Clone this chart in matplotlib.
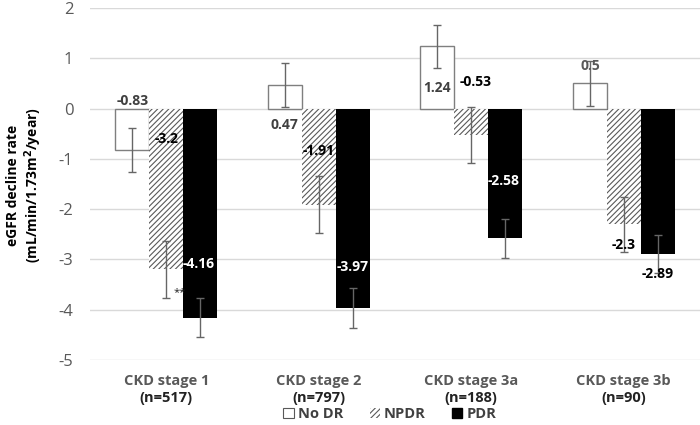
import matplotlib
matplotlib.use("Agg")
import matplotlib.pyplot as plt
from matplotlib.patches import Patch
import numpy as np

plt.rcParams['font.family'] = ['Open Sans', 'DejaVu Sans']
plt.rcParams['hatch.linewidth'] = 0.8
plt.rcParams['axes.unicode_minus'] = False

stages = ["CKD stage 1", "CKD stage 2", "CKD stage 3a", "CKD stage 3b"]
n_labels = ["(n=517)", "(n=797)", "(n=188)", "(n=90)"]
series = ["No DR", "NPDR", "PDR"]
no_dr = [-0.83, 0.47, 1.24, 0.5]
npdr = [-3.2, -1.91, -0.53, -2.3]
pdr = [-4.16, -3.97, -2.58, -2.89]
no_dr_err = [0.44, 0.43, 0.43, 0.44]
npdr_err = [0.57, 0.56, 0.56, 0.55]
pdr_err = [0.39, 0.40, 0.39, 0.38]
value_labels = [["-0.83", "0.47", "1.24", "0.5"],
                ["-3.2", "-1.91", "-0.53", "-2.3"],
                ["-4.16", "-3.97", "-2.58", "-2.89"]]
# label vertical positions (data units) as placed in the original
label_y = [[0.16, -0.32, 0.40, 0.84],
           [-0.60, -0.84, 0.52, -2.72],
           [-3.10, -3.16, -1.44, -3.28]]
label_dx = [[0.0, 0.0, 0.0, 0.0],
            [0.0, 0.0, 0.03, 0.0],
            [-0.01, 0.0, -0.01, 0.0]]
label_colors = [["#404040", "#404040", "#404040", "#595959"],
                ["#000000", "#000000", "#000000", "#000000"],
                ["#ffffff", "#ffffff", "#ffffff", "#000000"]]
sig_mark = "**"

fig = plt.figure(figsize=(7, 4.25), dpi=100)
ax = fig.add_axes([90/700, 65/425, 610/700, 352/425])

x = np.arange(len(stages))
w = 0.222
offsets = [-w, 0, w]
vals = [no_dr, npdr, pdr]
errs = [no_dr_err, npdr_err, pdr_err]

ax.bar(x - w, no_dr, w, color="white", edgecolor="#7f7f7f", linewidth=1.0, zorder=2)
ax.bar(x, npdr, w, color="white", edgecolor="#595959", hatch="//////", linewidth=0, zorder=2)
ax.bar(x + w, pdr, w, color="black", edgecolor="black", linewidth=0, zorder=2)

for off, v, e in zip(offsets, vals, errs):
    ax.errorbar(x + off, v, yerr=e, fmt="none", ecolor="#666666", elinewidth=1.0,
                capsize=3, capthick=1.0, zorder=3)

for si in range(3):
    for ci in range(4):
        ax.text(x[ci] + offsets[si] + label_dx[si][ci], label_y[si][ci], value_labels[si][ci],
                ha="center", va="center", fontsize=10, fontweight="bold",
                color=label_colors[si][ci], zorder=4)

ax.text(x[0] + 0.05, npdr[0] - npdr_err[0] + 0.12, sig_mark, ha="left", va="center",
        fontsize=8, color="#222222", zorder=4)

ax.set_xlim(-0.5, 3.5)
ax.set_ylim(-5, 2)
ax.set_yticks(range(-5, 3))
ax.yaxis.grid(True, color="#d9d9d9", linewidth=1.0)
ax.set_axisbelow(True)
for s in ax.spines.values():
    s.set_visible(False)
ax.tick_params(axis="y", length=0, pad=12, labelsize=12, labelcolor="#595959")
ax.set_xticks([])

for ci in range(4):
    ax.text(x[ci], -5.42, stages[ci], ha="center", va="center", fontsize=10.5,
            fontweight="bold", color="#595959")
    ax.text(x[ci], -5.75, n_labels[ci], ha="center", va="center", fontsize=10.5,
            fontweight="bold", color="#222222")

fig.text(25/700, 1 - 185/425, "eGFR decline rate\n(mL/min/1.73m$^{\\mathbf{2}}$/year)",
         rotation=90, ha="center", va="center", fontsize=10, fontweight="bold",
         color="#000000", linespacing=1.2)

handles = [Patch(facecolor="white", edgecolor="#595959", linewidth=0.8),
           Patch(facecolor="white", edgecolor="#595959", hatch="//////", linewidth=0),
           Patch(facecolor="black", edgecolor="black")]
leg = fig.legend(handles, series, loc="center", bbox_to_anchor=(390/700, 1 - 414/425),
                 ncol=3, frameon=False, fontsize=10.5, handlelength=0.7, handleheight=0.7,
                 handletextpad=0.3, columnspacing=1.8)
for t in leg.get_texts():
    t.set_color("#404040")
    t.set_fontweight("bold")

fig.savefig("out.png", dpi=100)
